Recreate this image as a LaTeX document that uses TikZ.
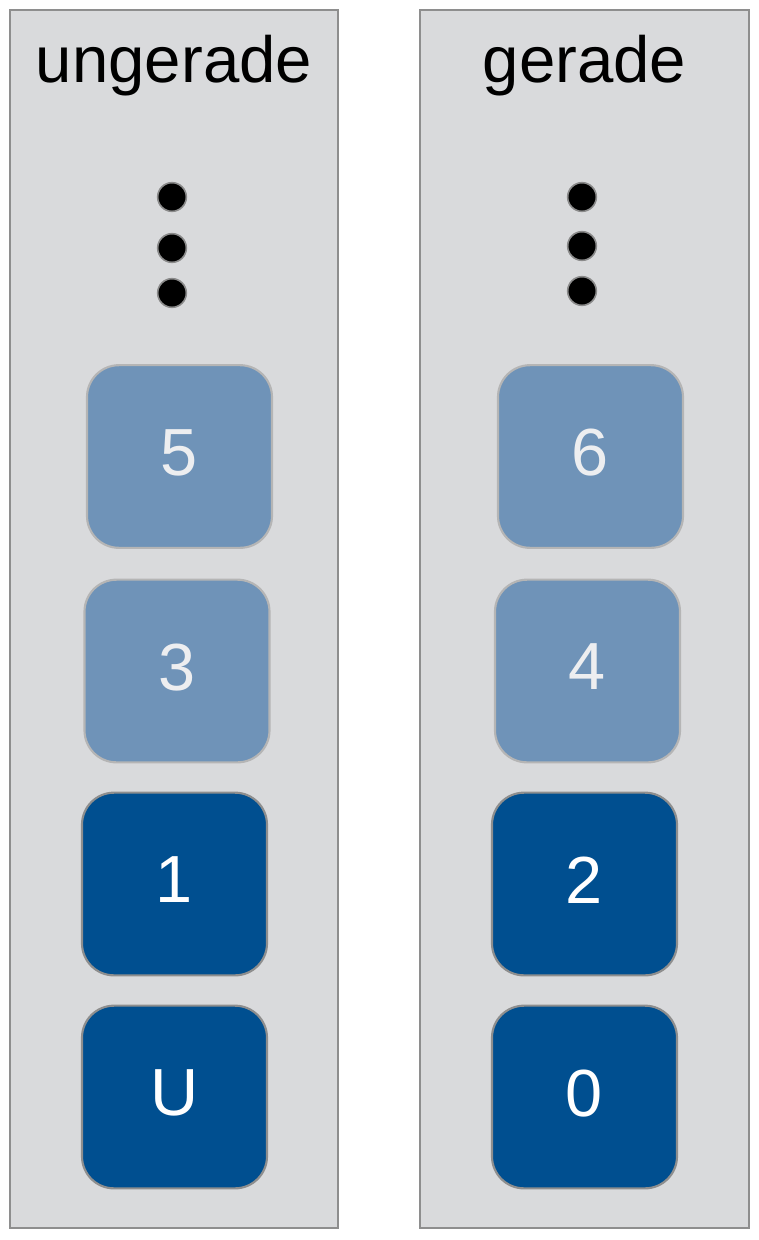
\documentclass[tikz,border=0pt]{standalone}
\usepackage{fontspec}
\setmainfont{Liberation Sans}
\usetikzlibrary{positioning}
\definecolor{panelgray}{HTML}{D9DADC}
\definecolor{panelborder}{HTML}{8E8E8E}
\definecolor{lightblue}{HTML}{6F93B8}
\definecolor{lightborder}{HTML}{B5B5B5}
\definecolor{lighttext}{HTML}{EDEEF0}
\definecolor{darkblue}{HTML}{004F90}
\definecolor{dotborder}{HTML}{8A8A8A}

\begin{document}
\begin{tikzpicture}[x=0.75pt,y=-0.75pt]
	\tikzstyle{panel}=[rectangle,draw=panelborder,fill=panelgray,line width=1.8pt,minimum height=913.5pt,inner sep=0pt]
	\tikzstyle{title}=[anchor=base,inner sep=0pt,font=\fontsize{49}{58}\selectfont]
	\tikzstyle{level}=[rectangle,rounded corners=24pt,minimum width=138.75pt,minimum height=137pt,line width=1.6pt,inner sep=0pt,text depth=6pt,font=\fontsize{50}{58}\selectfont]
	\tikzstyle{upper}=[level,fill=lightblue,draw=lightborder,text=lighttext]
	\tikzstyle{lower}=[level,fill=darkblue,draw=panelborder,text=white]
	\tikzstyle{dot}=[circle,fill=black,draw=dotborder,line width=1.2pt,minimum size=21.5pt,inner sep=0pt]
	\useasboundingbox (0,0) rectangle (758,1240);
	% panels
	\node[panel,minimum width=246pt] (odd) at (174,619) {};
	\node[panel,minimum width=246.75pt] (even) at (584.5,619) {};
	\node[title] (oddtitle) at (174,82) {ungerade};
	\node[title] (eventitle) at (584.5,82) {gerade};
	% dots
	\node[dot] (odddot1) at (172,197) {};
	\node[dot] (odddot2) at (172,248) {};
	\node[dot] (odddot3) at (172,293) {};
	\node[dot] (evendot1) at (582,197) {};
	\node[dot] (evendot2) at (582,246) {};
	\node[dot] (evendot3) at (582,291) {};
	% levels
	\node[upper] (l5) at (179.5,456.5) {5};
	\node[upper] (l3) at (177,671) {3};
	\node[lower] (l1) at (174.5,884) {1};
	\node[lower] (lU) at (174.5,1097) {U};
	\node[upper] (l6) at (590.5,456.5) {6};
	\node[upper] (l4) at (587.5,671) {4};
	\node[lower] (l2) at (584.5,884) {2};
	\node[lower] (l0) at (584.5,1097) {0};
\end{tikzpicture}
\end{document}
